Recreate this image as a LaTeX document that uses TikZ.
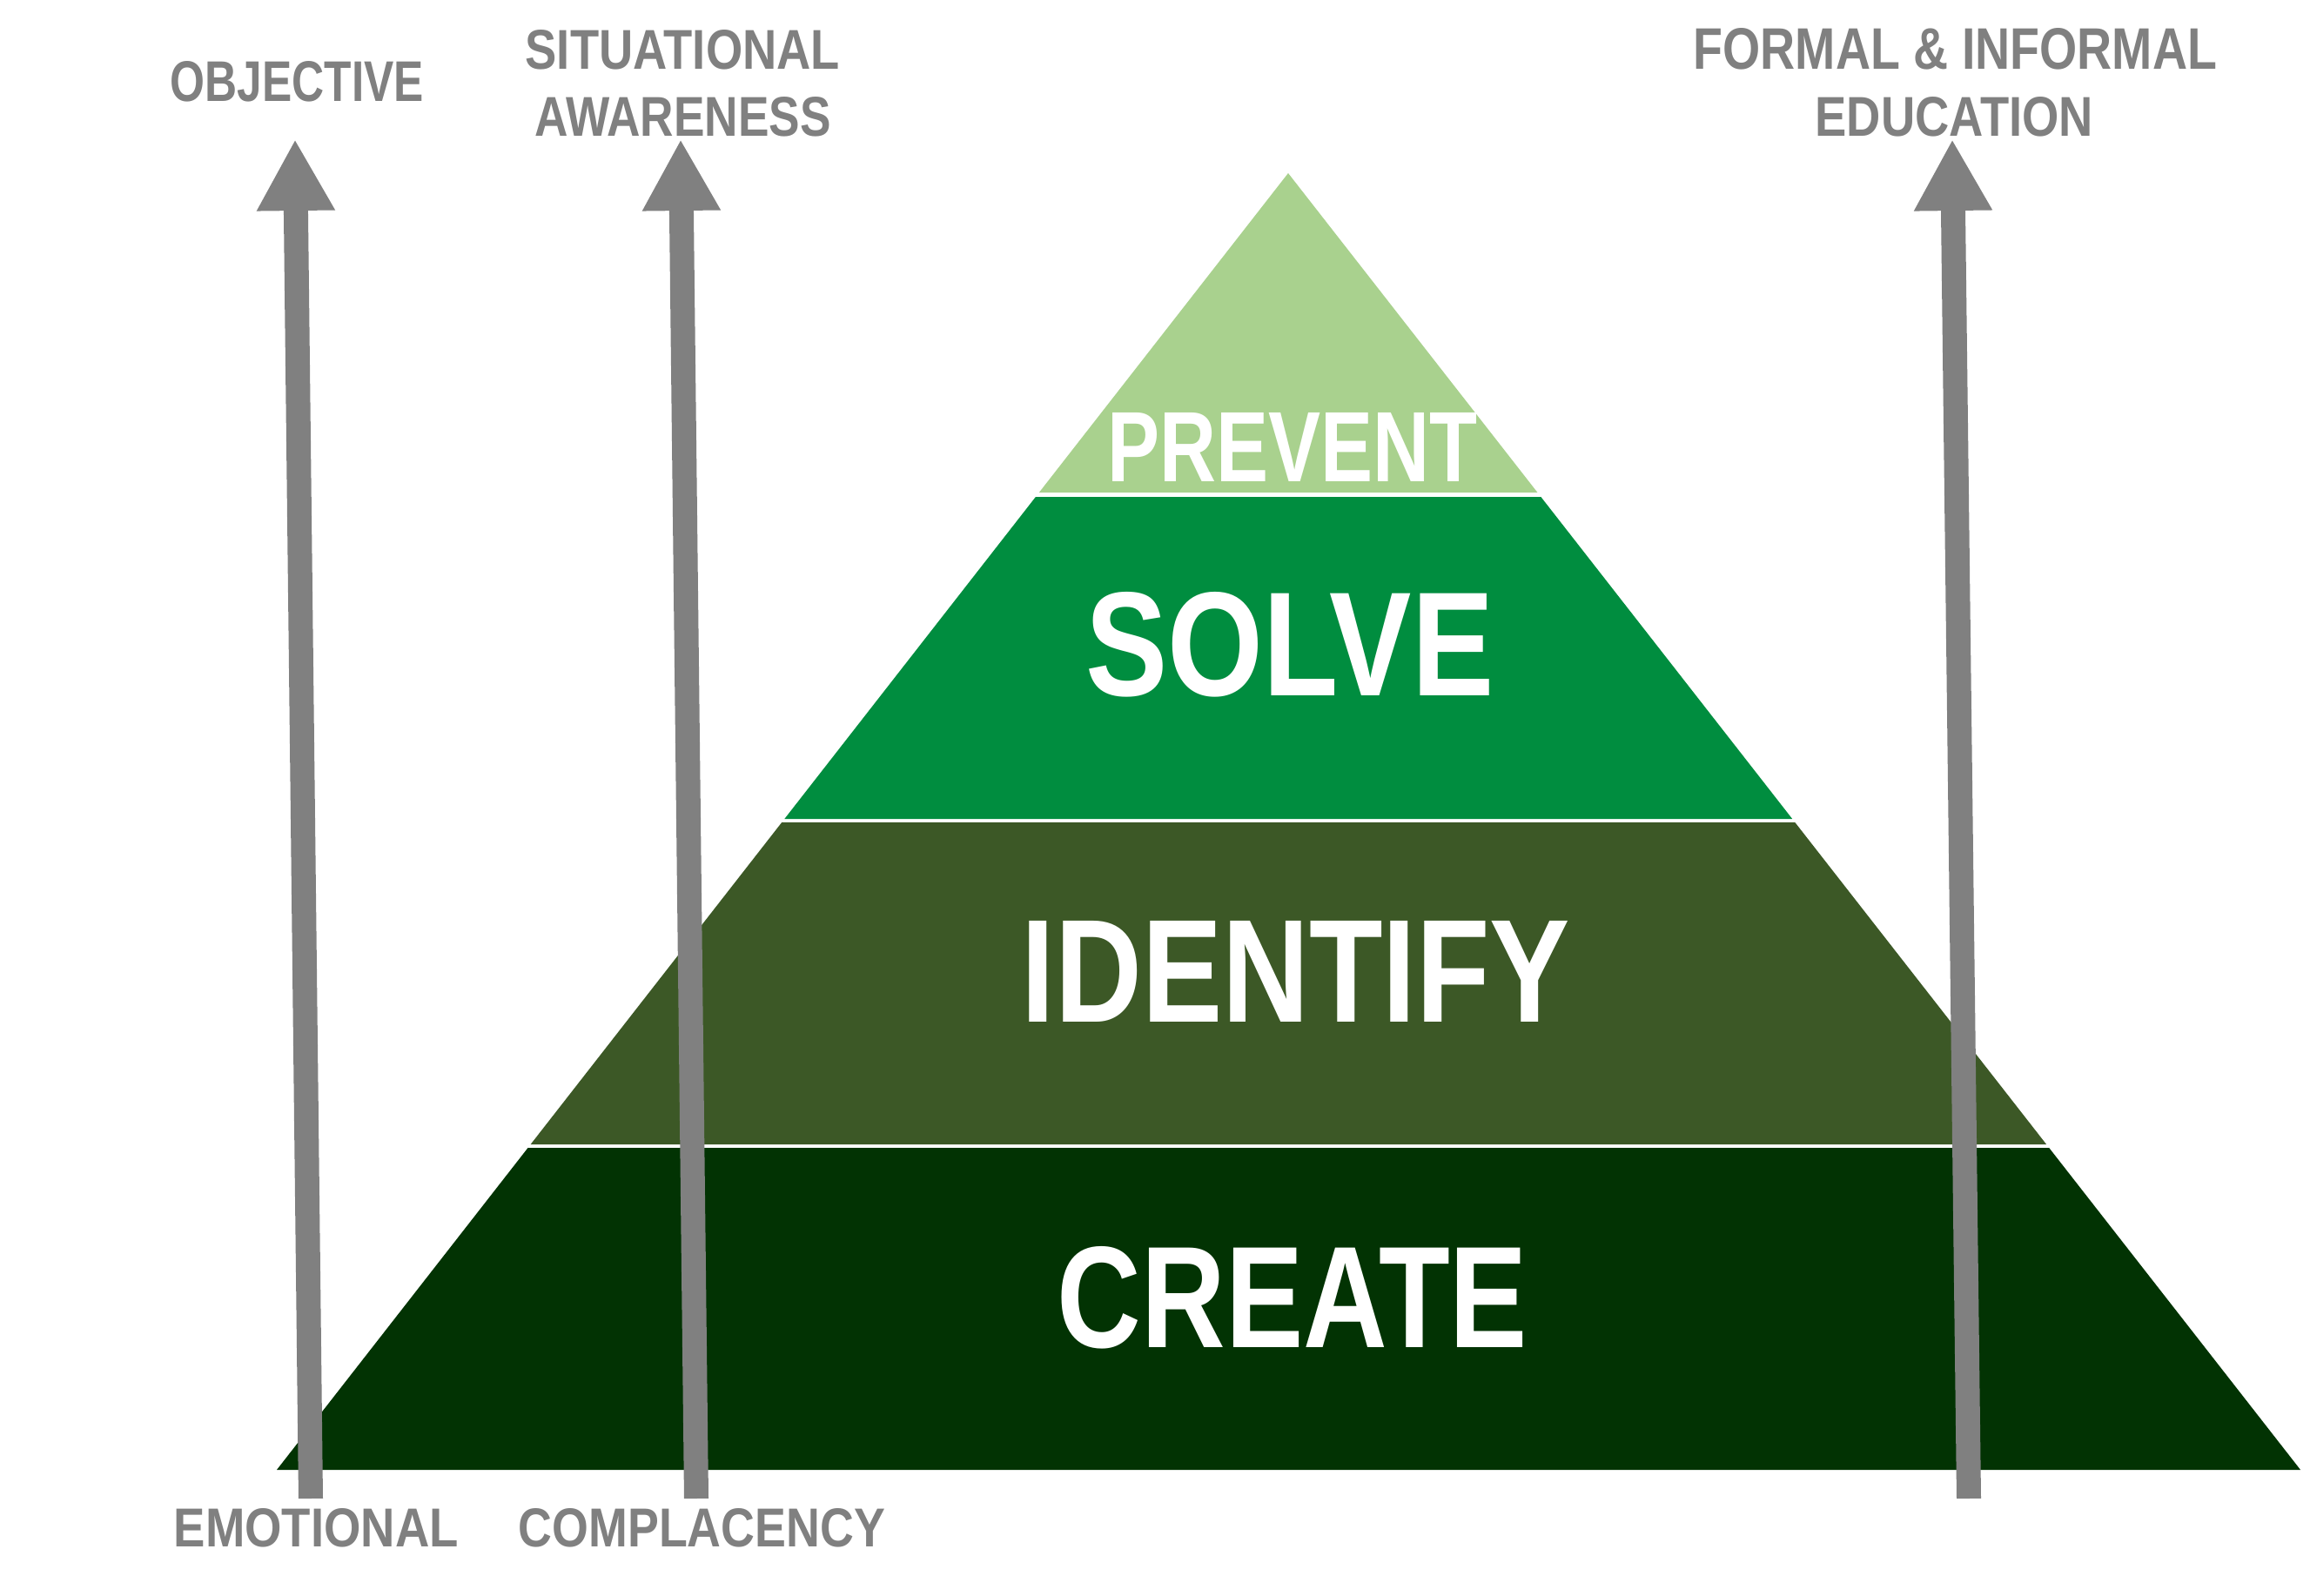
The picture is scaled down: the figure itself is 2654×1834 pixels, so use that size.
\documentclass[tikz,border=0pt]{standalone}
\usepackage{graphicx}
\usepackage{fontspec}
\setmainfont{Liberation Sans}
\usetikzlibrary{arrows.meta,calc}
\definecolor{lgreen}{HTML}{A9D18E}
\definecolor{mgreen}{HTML}{008D3F}
\definecolor{dgreen}{HTML}{3C5826}
\definecolor{vgreen}{HTML}{023303}
\definecolor{agray}{HTML}{808080}
\newcommand\pyrlayer[3]{\fill[#1] ($(apex)!#2!(bl)$) -- ($(apex)!#2!(br)$) -- ($(apex)!#3!(br)$) -- ($(apex)!#3!(bl)$) -- cycle;}
\begin{document}
\begin{tikzpicture}[x=0.01cm,y=-0.01cm,
  glabel/.style={inner sep=0pt, anchor=base west, text=agray, font=\bfseries},
  plabel/.style={inner sep=0pt, anchor=base west, text=white, font=\bfseries},
  uparrow/.style={draw=agray, line width=0.28cm, -{Triangle[width=0.84cm,length=0.82cm]}}
]
\useasboundingbox (0,0) rectangle (2654,1834);
\coordinate (apex) at (1480,199);
\coordinate (bl) at (318,1689);
\coordinate (br) at (2643,1689);
% pyramid layers
\fill[lgreen] (apex) -- ($(apex)!0.2463!(br)$) -- ($(apex)!0.2463!(bl)$) -- cycle;
\pyrlayer{mgreen}{0.2497}{0.4980}
\pyrlayer{dgreen}{0.5007}{0.7490}
\pyrlayer{vgreen}{0.7517}{1}
% pyramid labels
\node[plabel] (prevent) at (1272,554) {\resizebox{4.25cm}{0.79cm}{PREVENT}};
\node[plabel] (solve) at (1247,799) {\resizebox{4.68cm}{1.19cm}{SOLVE}};
\node[plabel] (identify) at (1173,1174) {\resizebox{6.30cm}{1.16cm}{IDENTIFY}};
\node[plabel] (create) at (1214,1548) {\resizebox{5.40cm}{1.16cm}{CREATE}};
% gray labels
\node[glabel] (objective) at (195,117) {\resizebox{2.91cm}{0.46cm}{OBJECTIVE}};
\node[glabel] (situational) at (603,80) {\resizebox{3.61cm}{0.45cm}{SITUATIONAL}};
\node[glabel] (awareness) at (614,157) {\resizebox{3.40cm}{0.45cm}{AWARENESS}};
\node[glabel] (formal) at (1945,80) {\resizebox{6.01cm}{0.47cm}{FORMAL \& INFORMAL}};
\node[glabel] (education) at (2085,157) {\resizebox{3.19cm}{0.45cm}{EDUCATION}};
\node[glabel] (emotional) at (199,1777) {\resizebox{3.27cm}{0.44cm}{EMOTIONAL}};
\node[glabel] (complacency) at (595,1777) {\resizebox{4.21cm}{0.44cm}{COMPLACENCY}};
% arrows
\coordinate (a1s) at (357,1722);
\coordinate (a1e) at (339,160);
\coordinate (a2s) at (800,1722);
\coordinate (a2e) at (782,160);
\coordinate (a3s) at (2262,1722);
\coordinate (a3e) at (2243,160);
\draw[uparrow] (a1s) -- (a1e);
\draw[uparrow] (a2s) -- (a2e);
\draw[uparrow] (a3s) -- (a3e);
\end{tikzpicture}
\end{document}
